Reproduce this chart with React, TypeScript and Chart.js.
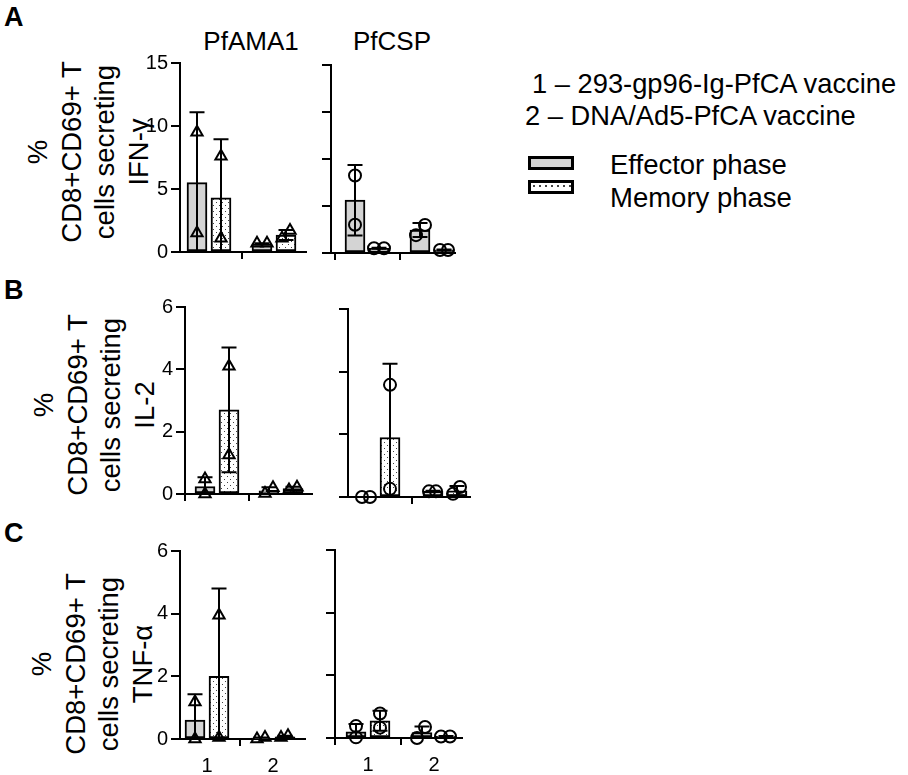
import { useEffect, useRef } from 'react'
import { Chart, registerables } from 'chart.js'

Chart.register(...registerables)

const FONT = '"Liberation Sans", Arial, Helvetica, sans-serif'
Chart.defaults.font.family = FONT
Chart.defaults.color = '#000'

const groups = [1, 2]
// every panel: [effector, memory][group 1, group 2]
const ifnAmaMean = [[5.5, 0.65], [4.3, 1.35]]
const ifnAmaSd = [[5.6, 0.05], [4.65, 0.4]]
const ifnAmaPts = [[[9.5, 1.5], [0.7, 0.7]], [[7.6, 1.1], [1.1, 1.7]]]

const ifnCspMean = [[2.25, 0.98], [0.2, 0.13]]
const ifnCspSd = [[1.5, 0.3], [0.02, 0.02]]
const ifnCspPts = [[[3.3, 1.2], [1.19, 0.76]], [[0.2, 0.2], [0.13, 0.13]]]

const il2AmaMean = [[0.24, 0.1], [2.7, 0.17]]
const il2AmaSd = [[0.3, 0.12], [2.0, 0.06]]
const il2AmaPts = [[[0.48, 0.0], [0.02, 0.2]], [[4.1, 1.25], [0.13, 0.22]]]

const il2CspMean = [[0, 0.18], [1.9, 0.2]]
const il2CspSd = [[0, 0.02], [2.35, 0.15]]
const il2CspPts = [[[0, 0], [0.18, 0.18]], [[3.58, 0.26], [0.1, 0.32]]]

const tnfAmaMean = [[0.6, 0.02], [2.0, 0.07]]
const tnfAmaSd = [[0.83, 0.03], [2.8, 0.03]]
const tnfAmaPts = [[[1.18, 0.0], [0.0, 0.05]], [[3.95, 0.05], [0.05, 0.1]]]

const tnfCspMean = [[0.2, 0.17], [0.55, 0.05]]
const tnfCspSd = [[0.25, 0.2], [0.32, 0.01]]
const tnfCspPts = [[[0.38, 0.02], [0.0, 0.35]], [[0.78, 0.33], [0.05, 0.05]]]

const legendGroups = ['1 – 293-gp96-Ig-PfCA vaccine', '2 – DNA/Ad5-PfCA vaccine']
const legendPhases = ['Effector phase', 'Memory phase']
const yTitles = ['IFN-γ', 'IL-2', 'TNF-α']

// horizontal spread of overlapping points, in px
const jitAmaIfn = [[[0, 0], [-5, 5]], [[0, 0], [-4, 4]]]
const jitCspIfn = [[[0, 0], [5, -4]], [[-5, 5], [-4, 4]]]
const jitAmaIl2 = [[[0, 0], [-4, 4]], [[0, 0], [-4, 4]]]
const jitCspIl2 = [[[-4, 4], [-4, 3]], [[0, 0], [-4, 3]]]
const jitAmaTnf = [[[0, 0], [-4, 4]], [[0, 0], [-4, 3]]]
const jitCspTnf = [[[0, 0], [-5, 3]], [[0, 0], [-5, 4]]]

type Lay = { L: number; R: number; T: number; B: number; t1: number; t2: number }

const YW = 40
const PT = 14
const PR = 22
const XH = 42
const BAR_OFF = 12

const errorBars = {
  id: 'errorBars',
  afterDatasetDraw(chart: any, args: any) {
    const ds = chart.data.datasets[args.index]
    if (!ds.sd) return
    const y = chart.scales.y
    const ctx = chart.ctx
    ctx.save()
    ctx.strokeStyle = '#000'
    ctx.lineWidth = 2
    args.meta.data.forEach((bar: any, i: number) => {
      const m = ds.data[i].y
      const s = ds.sd[i]
      if (!s) return
      const top = y.getPixelForValue(m + s)
      const lo = m - s
      const bot = y.getPixelForValue(Math.max(lo, 0))
      ctx.beginPath()
      ctx.moveTo(bar.x, top)
      ctx.lineTo(bar.x, bot)
      ctx.moveTo(bar.x - 7.5, top)
      ctx.lineTo(bar.x + 7.5, top)
      if (lo > 0) {
        ctx.moveTo(bar.x - 7.5, bot)
        ctx.lineTo(bar.x + 7.5, bot)
      }
      ctx.stroke()
    })
    ctx.restore()
  }
}

function dots(ctx: CanvasRenderingContext2D) {
  const c = document.createElement('canvas')
  c.width = 6
  c.height = 6
  const p = c.getContext('2d')!
  p.fillStyle = '#fff'
  p.fillRect(0, 0, 6, 6)
  p.fillStyle = '#444'
  p.fillRect(1, 1, 1, 1)
  p.fillRect(4, 4, 1, 1)
  return ctx.createPattern(c, 'repeat')!
}

type PanelProps = {
  lay: Lay
  yMax: number
  yStep: number
  showY: boolean
  showX: boolean
  marker: 'triangle' | 'circle'
  mean: number[][]
  sd: number[][]
  pts: number[][][]
  jit: number[][][]
}

function Panel({ lay, yMax, yStep, showY, showX, marker, mean, sd, pts, jit }: PanelProps) {
  const ref = useRef<HTMLCanvasElement>(null)
  const w = lay.R - lay.L + YW + PR
  const h = lay.B - lay.T + PT + XH
  useEffect(() => {
    if (!ref.current) return
    const ctx = ref.current.getContext('2d')
    if (!ctx) return
    const u = lay.t2 - lay.t1
    const xmin = 1 - (lay.t1 - lay.L) / u
    const xmax = 2 + (lay.R - lay.t2) / u
    const off = BAR_OFF / u
    const fills = ['#d4d4d4', dots(ctx)]
    const bars = [0, 1].map((ph) => ({
      type: 'bar' as const,
      order: 2,
      data: groups.map((g, gi) => ({ x: g + (ph ? off : -off), y: mean[ph][gi] })),
      sd: sd[ph],
      backgroundColor: fills[ph],
      borderColor: '#000',
      borderWidth: 2,
      borderSkipped: false,
      barThickness: 20,
      grouped: false
    }))
    const points: { x: number; y: number }[] = []
    ;[0, 1].forEach((ph) =>
      groups.forEach((g, gi) =>
        pts[ph][gi].forEach((v, k) =>
          points.push({ x: g + (ph ? off : -off) + jit[ph][gi][k] / u, y: v })
        )
      )
    )
    const chart = new Chart(ref.current, {
      type: 'bar',
      data: {
        datasets: [
          ...bars,
          {
            type: 'scatter' as const,
            order: 1,
            data: points,
            pointStyle: marker,
            pointRadius: marker === 'triangle' ? 6.5 : 6,
            pointBorderWidth: 2,
            pointBorderColor: '#000',
            pointBackgroundColor: 'rgba(0,0,0,0)',
            clip: false
          } as any
        ]
      },
      options: {
        responsive: false,
        animation: false,
        events: [],
        layout: { padding: { top: PT, right: PR, left: 0, bottom: 0 } },
        plugins: { legend: { display: false }, tooltip: { enabled: false } },
        scales: {
          x: {
            type: 'linear',
            offset: false,
            min: xmin,
            max: xmax,
            afterBuildTicks: (s: any) => { s.ticks = groups.map((g) => ({ value: g })) },
            afterFit: (s: any) => { s.height = XH },
            border: { display: true, color: '#000', width: 2 },
            grid: { drawOnChartArea: false, color: '#000', lineWidth: 2, tickLength: 7 },
            ticks: {
              padding: 8,
              font: { size: 20 },
              color: '#000',
              callback: (v: any) => (showX ? String(v) : '')
            }
          },
          y: {
            type: 'linear',
            min: 0,
            max: yMax,
            afterBuildTicks: (s: any) => {
              const t = []
              for (let v = 0; v <= yMax; v += yStep) t.push({ value: v })
              s.ticks = t
            },
            afterFit: (s: any) => { s.width = YW },
            border: { display: true, color: '#000', width: 2 },
            grid: { drawOnChartArea: false, color: '#000', lineWidth: 2, tickLength: 9 },
            ticks: {
              padding: 3,
              font: { size: 20 },
              color: '#000',
              callback: (v: any) => (showY ? String(v) : '')
            }
          }
        }
      },
      plugins: [errorBars]
    })
    return () => chart.destroy()
  }, [])
  return (
    <canvas
      ref={ref}
      width={w}
      height={h}
      style={{ position: 'absolute', left: lay.L - YW, top: lay.T - PT, width: w, height: h }}
    />
  )
}

function Text({ x, y, size, children, bold, anchor }: any) {
  // y is the baseline
  return (
    <div
      style={{
        position: 'absolute',
        left: x,
        top: y - 0.8465 * size,
        fontSize: size,
        lineHeight: 1,
        fontWeight: bold ? 700 : 400,
        whiteSpace: 'pre',
        transform: anchor === 'middle' ? 'translateX(-50%)' : undefined
      }}
    >
      {children}
    </div>
  )
}

function YTitle({ cx, cy, last }: { cx: number; cy: number; last: string }) {
  return (
    <div
      style={{
        position: 'absolute',
        left: cx,
        top: cy,
        transform: 'translate(-50%, -50%) rotate(-90deg)',
        fontSize: 27.5,
        lineHeight: '33.5px',
        textAlign: 'center',
        whiteSpace: 'pre'
      }}
    >
      {['%', 'CD8+CD69+ T', 'cells secreting', last].join('\n')}
    </div>
  )
}

export default function App() {
  return (
    <div
      style={{
        position: 'fixed',
        left: 0,
        top: 0,
        width: 908,
        height: 775,
        background: '#fff',
        overflow: 'hidden',
        fontFamily: FONT,
        color: '#000'
      }}
    >
      <Text x={4} y={27} size={27} bold>A</Text>
      <Text x={4} y={300} size={27} bold>B</Text>
      <Text x={4} y={543} size={27} bold>C</Text>

      <Text x={251} y={50} size={26} anchor="middle">PfAMA1</Text>
      <Text x={392} y={50} size={26} anchor="middle">PfCSP</Text>

      <YTitle cx={88} cy={152} last={yTitles[0]} />
      <YTitle cx={94} cy={405} last={yTitles[1]} />
      <YTitle cx={92} cy={664} last={yTitles[2]} />

      <Panel lay={{ L: 180, R: 306, T: 62, B: 252, t1: 209, t2: 274 }} yMax={15} yStep={5} showY showX={false}
        marker="triangle" mean={ifnAmaMean} sd={ifnAmaSd} pts={ifnAmaPts} jit={jitAmaIfn} />
      <Panel lay={{ L: 331, R: 455, T: 64, B: 253, t1: 367, t2: 432 }} yMax={8} yStep={2} showY={false} showX={false}
        marker="circle" mean={ifnCspMean} sd={ifnCspSd} pts={ifnCspPts} jit={jitCspIfn} />
      <Panel lay={{ L: 185, R: 312, T: 306, B: 494, t1: 217, t2: 281 }} yMax={6} yStep={2} showY showX={false}
        marker="triangle" mean={il2AmaMean} sd={il2AmaSd} pts={il2AmaPts} jit={jitAmaIl2} />
      <Panel lay={{ L: 348, R: 470, T: 308, B: 497, t1: 378, t2: 445 }} yMax={6} yStep={2} showY={false} showX={false}
        marker="circle" mean={il2CspMean} sd={il2CspSd} pts={il2CspPts} jit={jitCspIl2} />
      <Panel lay={{ L: 180, R: 305, T: 550, B: 739, t1: 207, t2: 273 }} yMax={6} yStep={2} showY showX
        marker="triangle" mean={tnfAmaMean} sd={tnfAmaSd} pts={tnfAmaPts} jit={jitAmaTnf} />
      <Panel lay={{ L: 335, R: 462, T: 549, B: 738, t1: 368, t2: 434 }} yMax={6} yStep={2} showY={false} showX
        marker="circle" mean={tnfCspMean} sd={tnfCspSd} pts={tnfCspPts} jit={jitCspTnf} />

      <Text x={532} y={93} size={27.3} >{legendGroups[0]}</Text>
      <Text x={525} y={125} size={27.3}>{legendGroups[1]}</Text>
      <div style={{ position: 'absolute', left: 528, top: 156, width: 46, height: 14, boxSizing: 'border-box', border: '3px solid #000', background: '#d4d4d4' }} />
      <div style={{ position: 'absolute', left: 528, top: 180, width: 46, height: 14, boxSizing: 'border-box', border: '3px solid #000', background: '#fff', backgroundImage: 'radial-gradient(#444 0.8px, transparent 1.2px)', backgroundSize: '6px 6px' }} />
      <Text x={610} y={174} size={27.5}>{legendPhases[0]}</Text>
      <Text x={610} y={207} size={27.5}>{legendPhases[1]}</Text>
    </div>
  )
}
